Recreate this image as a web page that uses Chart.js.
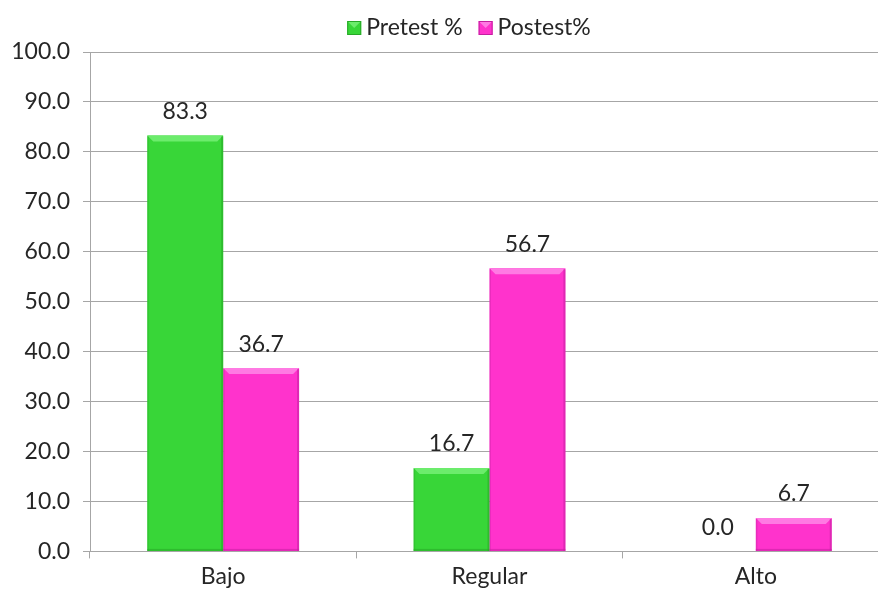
<!DOCTYPE html>
<html>
<head>
<meta charset="utf-8">
<script src="https://cdn.jsdelivr.net/npm/chart.js@4"></script>
<style>
    html, body { margin: 0; padding: 0; background: #ffffff; overflow: hidden; }
    #wrap { width: 900px; height: 594px; }
</style>
</head>
<body>
<div id="wrap"><canvas id="chart" width="900" height="594"></canvas></div>
<script>
const categories = ['Bajo', 'Regular', 'Alto'];
const pretest = [83.3, 16.7, 0.0];
const postest = [36.7, 56.7, 6.7];
const seriesNames = ['Pretest %', 'Postest%'];

const fontFamily = 'Lato, "Open Sans", sans-serif';
const fontSize = 23;
const textColor = '#262626';
const gridColor = '#a6a6a6';
const tones = [
    { fill: '#38d638', light: '#6cec6c', dark: '#27a827' },
    { fill: '#ff33cc', light: '#ff7ae3', dark: '#c41fa0' }
];

// bevel look of the Excel bars
const bevelPlugin = {
    id: 'bevel',
    afterDatasetsDraw(chart) {
        const ctx = chart.ctx;
        chart.data.datasets.forEach((ds, i) => {
            const meta = chart.getDatasetMeta(i);
            meta.data.forEach(bar => {
                const left = bar.x - bar.width / 2;
                const right = bar.x + bar.width / 2;
                const top = bar.y;
                const bottom = bar.base;
                const h = bottom - top;
                if (h < 1) return;
                const b = Math.min(6, h / 2);
                ctx.save();
                ctx.fillStyle = tones[i].light;
                ctx.beginPath();
                ctx.moveTo(left, top);
                ctx.lineTo(right, top);
                ctx.lineTo(right - b, top + b);
                ctx.lineTo(left + b, top + b);
                ctx.closePath();
                ctx.fill();
                ctx.fillStyle = tones[i].dark;
                ctx.globalAlpha = 0.55;
                ctx.fillRect(right - 2, top + 1, 2, h - 1);
                ctx.fillRect(left, bottom - 2, bar.width, 2);
                ctx.globalAlpha = 0.35;
                ctx.fillRect(left, top + 1, 1.5, h - 1);
                ctx.restore();
            });
        });
    }
};

const valueLabels = {
    id: 'valueLabels',
    afterDatasetsDraw(chart) {
        const ctx = chart.ctx;
        ctx.save();
        ctx.font = fontSize + 'px ' + fontFamily;
        ctx.fillStyle = textColor;
        ctx.textAlign = 'center';
        ctx.textBaseline = 'middle';
        chart.data.datasets.forEach((ds, i) => {
            const meta = chart.getDatasetMeta(i);
            meta.data.forEach((bar, j) => {
                ctx.fillText(ds.data[j].toFixed(1), bar.x, bar.y - 24);
            });
        });
        ctx.restore();
    }
};

// Excel style legend: small box, tight gap to the text
const topLegend = {
    id: 'topLegend',
    afterDraw(chart) {
        const ctx = chart.ctx;
        const box = 14, gap = 5, itemGap = 16, cy = 28, cx = 469;
        ctx.save();
        ctx.font = fontSize + 'px ' + fontFamily;
        const items = chart.data.datasets.map((ds, i) => ({
            text: ds.label, tone: tones[i], w: ctx.measureText(ds.label).width
        }));
        let total = 0;
        items.forEach((it, i) => { total += box + gap + it.w + (i ? itemGap : 0); });
        let x = cx - total / 2;
        items.forEach(it => {
            const y = cy - box / 2;
            ctx.fillStyle = it.tone.fill;
            ctx.fillRect(x, y, box, box);
            ctx.fillStyle = it.tone.light;
            ctx.beginPath();
            ctx.moveTo(x, y);
            ctx.lineTo(x + box, y);
            ctx.lineTo(x + box / 2, y + box / 2);
            ctx.closePath();
            ctx.fill();
            ctx.strokeStyle = it.tone.dark;
            ctx.lineWidth = 1;
            ctx.strokeRect(x + 0.5, y + 0.5, box - 1, box - 1);
            ctx.fillStyle = textColor;
            ctx.textAlign = 'left';
            ctx.textBaseline = 'middle';
            ctx.fillText(it.text, x + box + gap, cy);
            x += box + gap + it.w + itemGap;
        });
        ctx.restore();
    }
};

new Chart(document.getElementById('chart'), {
    type: 'bar',
    data: {
        labels: categories,
        datasets: [{
            label: seriesNames[0],
            data: pretest,
            backgroundColor: tones[0].fill,
            borderWidth: 0
        }, {
            label: seriesNames[1],
            data: postest,
            backgroundColor: tones[1].fill,
            borderWidth: 0
        }]
    },
    options: {
        responsive: false,
        animation: false,
        layout: {
            padding: { left: 0, right: 11, top: 52, bottom: 0 }
        },
        datasets: {
            bar: {
                categoryPercentage: 0.57,
                barPercentage: 1.0
            }
        },
        plugins: {
            legend: { display: false },
            tooltip: { enabled: false }
        },
        scales: {
            x: {
                grid: {
                    display: true,
                    offset: true,
                    drawOnChartArea: false,
                    tickLength: 7,
                    color: gridColor
                },
                border: { display: true, color: gridColor },
                ticks: {
                    color: textColor,
                    font: { family: fontFamily, size: fontSize },
                    padding: 4
                }
            },
            y: {
                min: 0,
                max: 100,
                afterFit(scale) {
                    scale.width = 90;
                },
                grid: {
                    color: gridColor,
                    tickLength: 7
                },
                border: { display: true, color: gridColor },
                ticks: {
                    stepSize: 10,
                    color: textColor,
                    padding: 13,
                    font: { family: fontFamily, size: fontSize },
                    callback: function (value) {
                        return value.toFixed(1);
                    }
                }
            }
        }
    },
    plugins: [bevelPlugin, valueLabels, topLegend]
});
</script>
</body>
</html>
